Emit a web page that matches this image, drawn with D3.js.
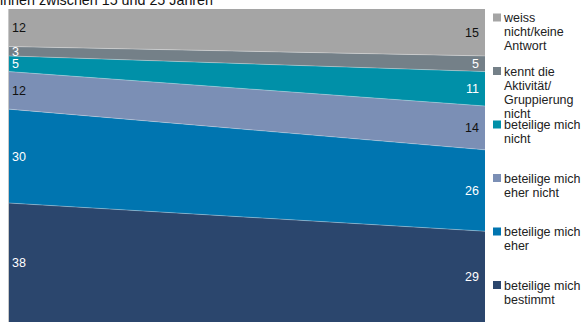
<!DOCTYPE html>
<html><head><meta charset="utf-8">
<script src="https://cdn.jsdelivr.net/npm/d3@7"></script>
<style>body{margin:0;background:#fff}svg{display:block}text{font-family:"Liberation Sans",Arial,sans-serif}</style>
</head><body><svg id="c" width="584" height="323"></svg>
<script>
const periods = ["Erhebung A", "Erhebung B"];
const seriesNames = ["beteilige mich\nbestimmt", "beteilige mich\neher", "beteilige mich\neher nicht", "beteilige mich\nnicht", "kennt die\nAktivität/\nGruppierung\nnicht", "weiss\nnicht/keine\nAntwort"];
const valuesStart = [38, 30, 12, 5, 3, 12];
const valuesEnd = [29, 26, 14, 11, 5, 15];
const colors = ["#2b466d", "#0075b0", "#7b8fb5", "#0090a8", "#748088", "#a5a5a5"];
const labelColors = ["#fff", "#fff", "#111", "#fff", "#fff", "#111"];
const titleText = "Einwohnerinnen zwischen 15 und 25 Jahren";

const svg = d3.select("#c");
const keys = seriesNames.map((d, i) => "s" + i);
const rows = periods.map((p, j) => {
  const r = {period: p};
  keys.forEach((k, i) => r[k] = (j === 0 ? valuesStart : valuesEnd)[i]);
  return r;
});
const stack = d3.stack().keys(keys)(rows);
const x = d3.scalePoint().domain(periods).range([9, 485]);
const y = d3.scaleLinear().domain([0, 100]).range([322, 9]);

const area = d3.area().x(d => x(d.data.period)).y0(d => y(d[0])).y1(d => y(d[1]));
svg.append("g").selectAll("path").data(stack).join("path")
  .attr("d", area).attr("fill", (d, i) => colors[i]);
const topLine = d3.line().x(d => x(d.data.period)).y(d => y(d[1]));
svg.append("g").selectAll("path").data(stack.slice(0, -1)).join("path")
  .attr("d", topLine).attr("fill", "none").attr("stroke", "rgba(255,255,255,0.3)").attr("stroke-width", 1);

svg.append("line").attr("x1", 8.5).attr("x2", 8.5).attr("y1", y(100)).attr("y2", y(0))
  .attr("stroke", "#c8c8c8").attr("stroke-width", 1);

// value labels
const lab = svg.append("g").attr("font-size", "12.5px");
stack.forEach((s, i) => {
  s.forEach((d, j) => {
    lab.append("text")
      .attr("x", j === 0 ? x(periods[0]) + 3 : x(periods[1]) - 6)
      .attr("y", (y(d[0]) + y(d[1])) / 2)
      .attr("dy", "0.36em")
      .attr("text-anchor", j === 0 ? "start" : "end")
      .attr("fill", labelColors[i])
      .text(d[1] - d[0]);
  });
});

// legend (top to bottom)
const leg = svg.append("g").attr("font-size", "12.5px").attr("fill", "#222");
const order = d3.range(seriesNames.length).reverse();
order.forEach((i, k) => {
  const cy = 17.5 + k * 53.5;
  leg.append("rect").attr("x", 493).attr("y", cy - 4).attr("width", 8).attr("height", 8).attr("fill", colors[i]);
  const t = leg.append("text").attr("x", 504).attr("y", cy).attr("dy", "0.36em");
  seriesNames[i].split("\n").forEach((line, li) => {
    t.append("tspan").attr("x", 504).attr("dy", li === 0 ? "0.36em" : "14.1px").text(line);
  });
});

svg.append("text").attr("x", 213).attr("y", 5).attr("text-anchor", "end")
  .attr("font-size", "14.3px").attr("fill", "#111").text(titleText);
</script></body></html>
